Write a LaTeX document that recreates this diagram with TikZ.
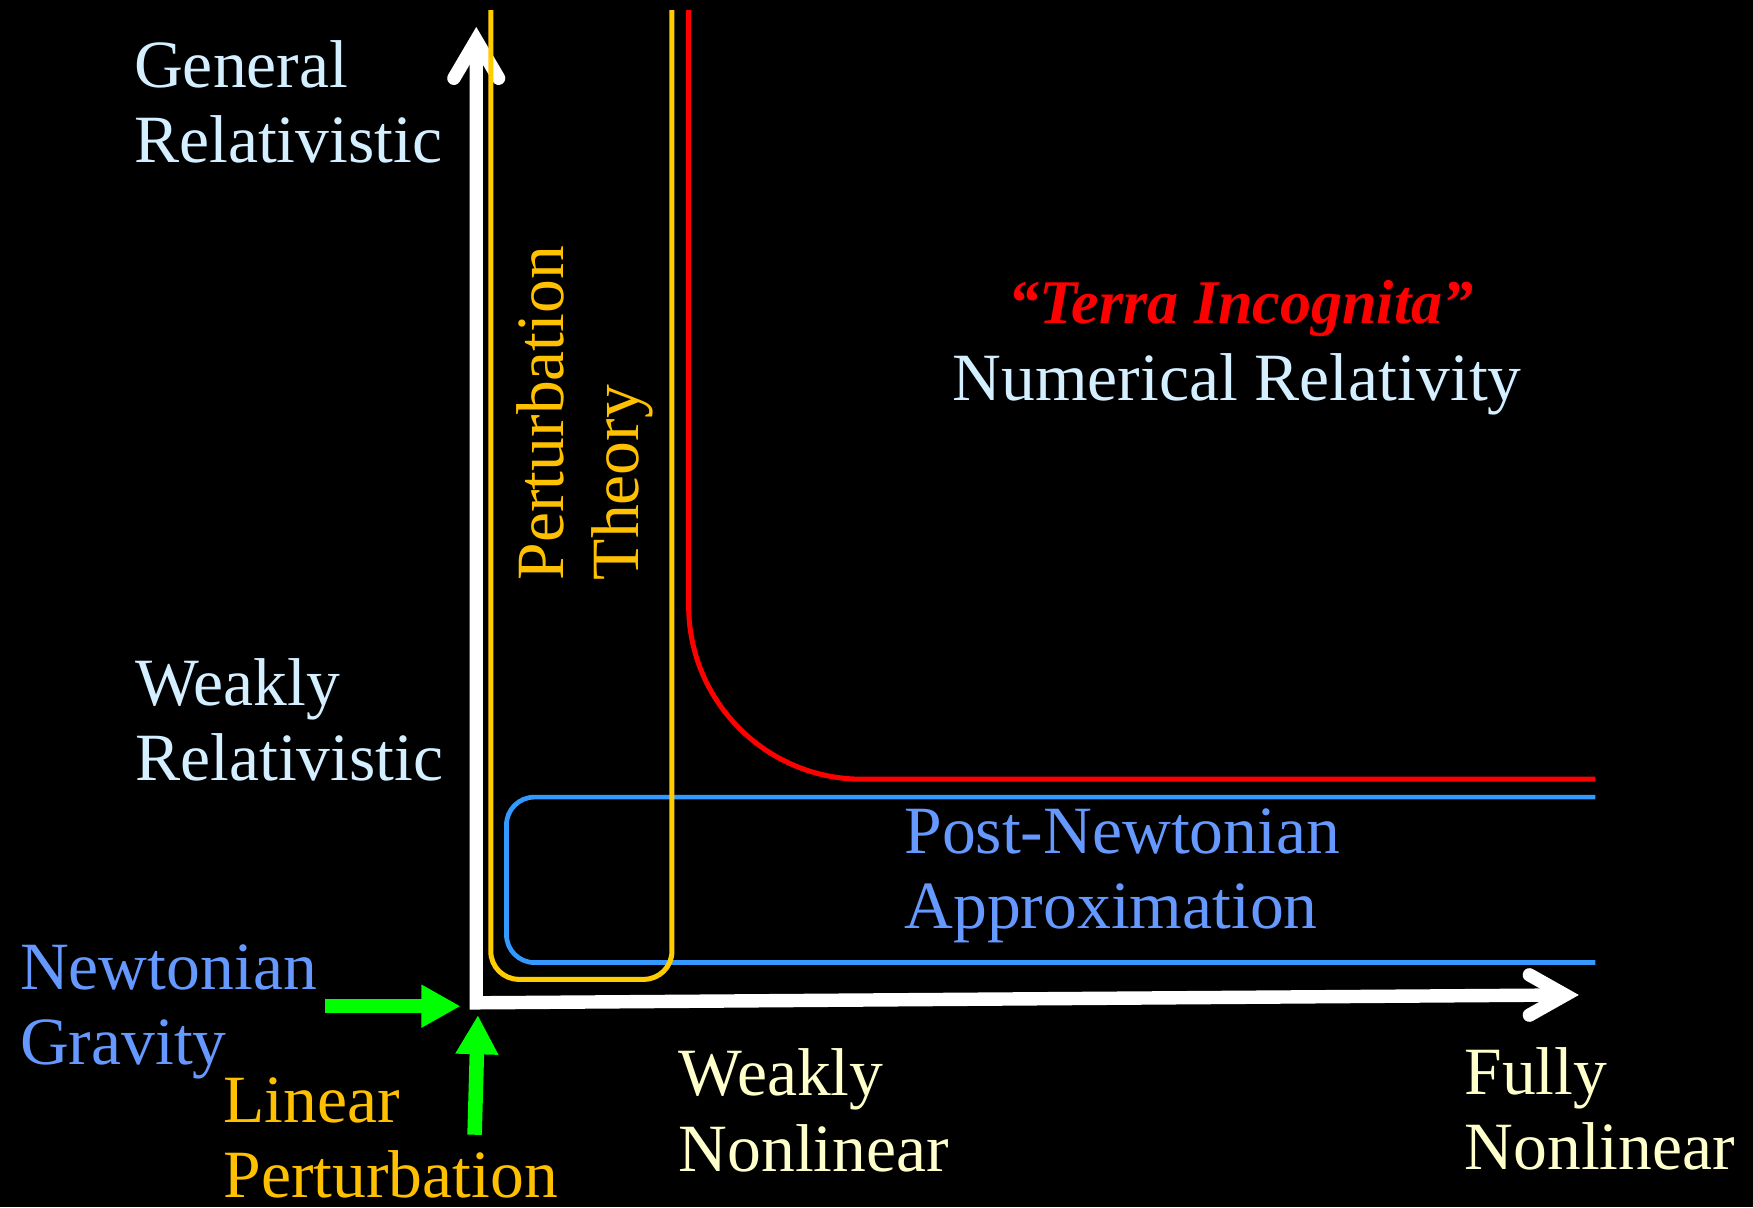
\documentclass[tikz,border=0pt]{standalone}
\usepackage{fontspec}
\setmainfont{Liberation Serif}
\usetikzlibrary{arrows.meta,calc}
\definecolor{lblue}{HTML}{D4EFFF}
\definecolor{nblue}{HTML}{6699FF}
\definecolor{gtext}{HTML}{FFC000}
\definecolor{gline}{HTML}{FFCC00}
\definecolor{bline}{HTML}{3399FF}
\definecolor{cream}{HTML}{FFFFCC}
\definecolor{rline}{HTML}{FF0000}
\definecolor{garr}{HTML}{00FF00}
\newcommand{\twol}[2]{\begin{tabular}[t]{@{}l@{}}#1\\#2\end{tabular}}
\begin{document}
\begin{tikzpicture}[x=0.01cm,y=-0.01cm,
  lbl/.style={inner sep=0pt, outer sep=0pt, anchor=base west, font=\fontsize{17.2}{19.2}\selectfont},
  axisline/.style={draw=white, line width=0.12cm, line join=miter},
  barb/.style={draw=white, line width=0.12cm, line join=miter, line cap=round},
  pertline/.style={draw=gline, line width=0.045cm, rounded corners=0.25cm},
  nrline/.style={draw=rline, line width=0.045cm, rounded corners=1.55cm},
  pnline/.style={draw=bline, line width=0.042cm, rounded corners=0.25cm},
  garrow/.style={draw=garr, line width=0.12cm, -{Triangle[length=0.35cm,width=0.36cm]}, color=garr}]
\fill[black] (0,0) rectangle (1568,1080);
\useasboundingbox (0,0) rectangle (1568,1080);

% axes
\coordinate (o) at (426,897);
\coordinate (ytip) at (426,36);
\coordinate (xtip) at (1400,890);
\draw[axisline] (ytip) -- (o) -- (xtip);
\draw[barb] ($(ytip)+(-20,34)$) -- (ytip) -- ($(ytip)+(20,34)$);
\draw[barb] ($(xtip)+(-32,-18)$) -- (xtip) -- ($(xtip)+(-32,18)$);

% regions
\draw[pnline] (1427,713) -- (453,713) -- (453,861) -- (1427,861);
\draw[pertline] (439,9) -- (439,876) -- (601,876) -- (601,9);
\draw[nrline] (616,9) -- (616,697) -- (1427,697);

% green arrows
\coordinate (ngs) at (291,900);
\coordinate (nge) at (412,900);
\coordinate (lps) at (424.5,1015);
\coordinate (lpe) at (427.5,908);
\draw[garrow] (ngs) -- (nge);
\draw[garrow, line width=0.13cm] (lps) -- (lpe);

% labels
\node[lbl, text=lblue] (gr) at (120,78) {\twol{General}{Relativistic}};
\node[lbl, text=lblue] (wr) at (121,631) {\twol{Weakly}{Relativistic}};
\node[lbl, text=nblue] (ng) at (18,885) {\twol{Newtonian}{Gravity}};
\node[lbl, text=gtext] (lp) at (200,1004) {\twol{Linear}{Perturbation}};
\node[lbl, text=gtext, rotate=90] (pt) at (504,519) {\twol{Perturbation}{Theory}};
\node[inner sep=0pt, anchor=base, text=rline, font=\fontsize{15.8}{18}\selectfont\bfseries\itshape] (ti) at (1110,289) {“Terra Incognita”};
\node[lbl, text=lblue] (nr) at (852,358) {Numerical Relativity};
\node[lbl, text=nblue] (pn) at (809,763) {\twol{Post-Newtonian}{Approximation}};
\node[lbl, text=cream] (wn) at (607,980) {\twol{Weakly}{Nonlinear}};
\node[lbl, text=cream] (fn) at (1310,979) {\twol{Fully}{Nonlinear}};
\end{tikzpicture}
\end{document}
